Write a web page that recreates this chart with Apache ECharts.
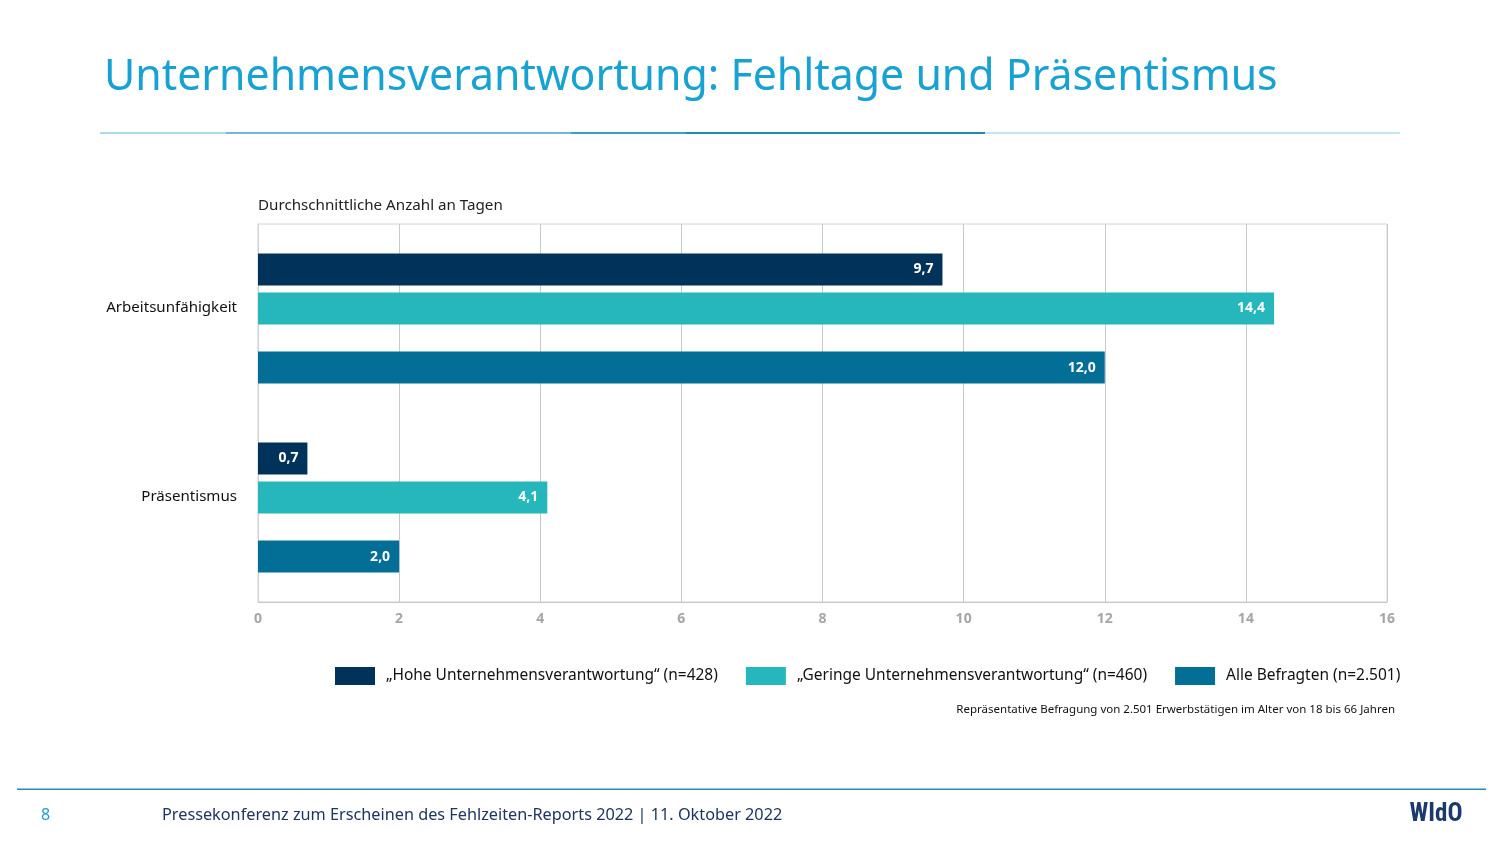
<!DOCTYPE html>
<html><head><meta charset="utf-8">
<script src="https://cdn.jsdelivr.net/npm/echarts@6/dist/echarts.min.js"></script>
<style>html,body{margin:0;padding:0;background:#fff}#c{width:1503px;height:845px}</style>
</head><body><div id="c"></div>
<script>
// ---- data ----
const categories = ['Arbeitsunfähigkeit', 'Präsentismus'];
const seriesNames = ['„Hohe Unternehmensverantwortung“ (n=428)', '„Geringe Unternehmensverantwortung“ (n=460)', 'Alle Befragten (n=2.501)'];
const hoheValues = [9.7, 0.7];
const geringeValues = [14.4, 4.1];
const alleValues = [12.0, 2.0];
const xTicks = [0, 2, 4, 6, 8, 10, 12, 14, 16];

const titleText = 'Unternehmensverantwortung: Fehltage und Präsentismus';
const subtitleText = 'Durchschnittliche Anzahl an Tagen';
const sourceText = 'Repräsentative Befragung von 2.501 Erwerbstätigen im Alter von 18 bis 66 Jahren';
const footerText = 'Pressekonferenz zum Erscheinen des Fehlzeiten-Reports 2022 | 11. Oktober 2022';

const FONT = '"Noto Sans", "Open Sans", sans-serif';
const mctx = document.createElement('canvas').getContext('2d');
function fit(text, weight, width) {
  mctx.font = weight + ' 100px ' + FONT;
  return 100 * width / mctx.measureText(text).width;
}

const colors = ['#00325A', '#26B7BC', '#036E96'];
const chart = echarts.init(document.getElementById('c'), null, {renderer: 'canvas'});

const titleSize = fit(titleText, 'normal', 1174);
const subSize = fit(subtitleText, 'normal', 245);
const srcSize = fit(sourceText, 'normal', 439);
const footSize = fit(footerText, 'normal', 621);
const legSize = fit(seriesNames[0], 'normal', 332);
const catSize = fit(categories[0], 'normal', 131);

const fmt = p => p.value.toFixed(1).replace('.', ',');
const labelCfg = {show: true, position: 'insideRight', distance: 9, color: '#fff', fontWeight: 'bold', fontSize: 14, fontFamily: FONT, formatter: fmt};

chart.setOption({
  animation: false,
  textStyle: {fontFamily: FONT},
  grid: {left: 258, right: 116, top: 224, bottom: 243, show: true, borderColor: '#cfd2d6', borderWidth: 1, containLabel: false},
  xAxis: {
    type: 'value', min: 0, max: 16, interval: 2,
    axisLine: {show: true, lineStyle: {color: '#c4c8cc'}},
    axisTick: {show: false},
    splitLine: {show: true, lineStyle: {color: '#c6cad0', width: 1}},
    axisLabel: {color: '#a6a6a6', fontWeight: 'bold', fontSize: 14, margin: 10, fontFamily: FONT,
      formatter: v => xTicks.includes(v) ? String(v) : ''}
  },
  yAxis: {
    type: 'category', data: categories, inverse: true,
    axisLine: {show: true, lineStyle: {color: '#cfd2d6'}},
    axisTick: {show: false},
    axisLabel: {color: '#111', fontSize: catSize, margin: 21, lineHeight: 22, fontFamily: FONT,
      formatter: v => v + '\n '}
  },
  legend: {
    data: seriesNames, left: 330, top: 662, itemWidth: 40, itemHeight: 18, itemGap: 28,
    icon: 'rect', textStyle: {fontSize: legSize, color: '#111', padding: [0, 0, 0, 6], fontFamily: FONT}
  },
  series: [
    {name: seriesNames[0], type: 'bar', data: hoheValues, barWidth: 32, barGap: '22%', barCategoryGap: 0, itemStyle: {color: colors[0]}, label: labelCfg},
    {name: seriesNames[1], type: 'bar', data: geringeValues, barWidth: 32, barGap: '22%', itemStyle: {color: colors[1]}, label: labelCfg},
    {name: 'spacer', type: 'bar', data: [], barWidth: 16.4, barGap: '22%', silent: true},
    {name: seriesNames[2], type: 'bar', data: alleValues, barWidth: 32, barGap: '22%', itemStyle: {color: colors[2]}, label: labelCfg}
  ],
  graphic: [
    {type: 'text', left: 104, top: 56, style: {text: titleText, fontSize: titleSize, fontFamily: FONT, fill: '#17A2D3'}},
    {type: 'rect', shape: {x: 100, y: 132, width: 126, height: 2}, style: {fill: '#a9dde6'}},
    {type: 'rect', shape: {x: 226, y: 132, width: 345, height: 2}, style: {fill: '#74b7d8'}},
    {type: 'rect', shape: {x: 571, y: 132, width: 115, height: 2}, style: {fill: '#3a9fc8'}},
    {type: 'rect', shape: {x: 686, y: 132, width: 299, height: 2}, style: {fill: '#1e8bad'}},
    {type: 'rect', shape: {x: 985, y: 132, width: 415, height: 2}, style: {fill: '#c5e5f1'}},
    {type: 'text', x: 258, y: 206, style: {text: subtitleText, fontSize: subSize, fontFamily: FONT, fill: '#222', verticalAlign: 'middle'}},
    {type: 'text', x: 1395, y: 710, style: {text: sourceText, fontSize: srcSize, fontFamily: FONT, fill: '#111', align: 'right', verticalAlign: 'middle'}},
    {type: 'rect', shape: {x: 17, y: 788.5, width: 1469, height: 1.5}, style: {fill: '#1f8fb3'}},
    {type: 'text', x: 41, y: 815, style: {text: '8', fontSize: 16, fontFamily: FONT, fill: '#1BA0D0', verticalAlign: 'middle'}},
    {type: 'text', x: 162, y: 815, style: {text: footerText, fontSize: footSize, fontFamily: FONT, fill: '#1e3560', verticalAlign: 'middle'}},
    {type: 'text', x: 1436, y: 815, style: {text: 'WIdO', fontSize: 25, fontWeight: 'bold', fontFamily: '"Liberation Sans Narrow", "Roboto Condensed", sans-serif', fill: '#1b3a6b', align: 'center', verticalAlign: 'middle'}}
  ]
});
</script></body></html>
